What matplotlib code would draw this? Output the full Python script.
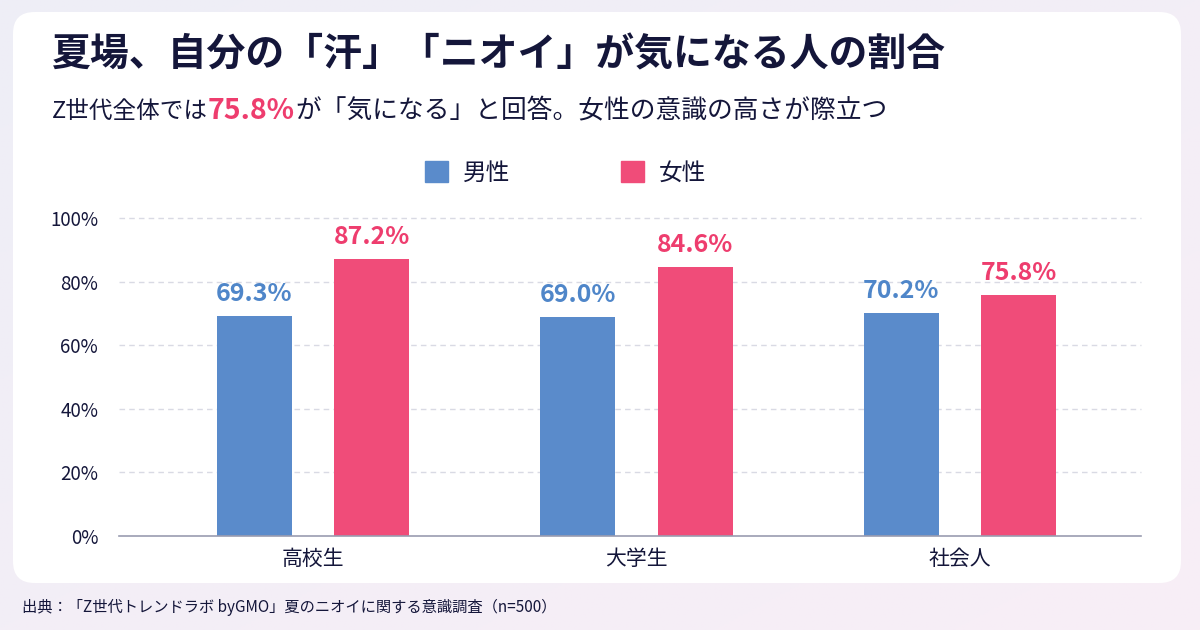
import numpy as np
import matplotlib
matplotlib.use('Agg')
import matplotlib.pyplot as plt
from matplotlib.patches import FancyBboxPatch, Patch
from matplotlib.colors import LinearSegmentedColormap

plt.rcParams['font.family'] = ['Noto Sans CJK JP', 'DejaVu Sans']

# data
categories = ['高校生', '大学生', '社会人']
male = [69.3, 69.0, 70.2]
female = [87.2, 84.6, 75.8]
series_names = ['男性', '女性']
yticks = [0, 20, 40, 60, 80, 100]

title = '夏場、自分の「汗」「ニオイ」が気になる人の割合'
# (text, highlighted, font size)
sub_parts = [('Z世代全体では', False, 17), ('75.8%', True, 20.5),
             ('が「気になる」と回答。女性の意識の高さが際立つ', False, 18.5)]
source = '出典：「Z世代トレンドラボ byGMO」夏のニオイに関する意識調査（n=500）'

blue = '#5a8bcb'
pink = '#f04c79'
blue_txt = '#4f86c9'
pink_txt = '#ee3d6e'
navy = '#14163a'

W, H = 1200, 630
fig = plt.figure(figsize=(W / 100, H / 100), dpi=100)

# background gradient
bg = fig.add_axes([0, 0, 1, 1], zorder=-10)
grad = np.linspace(0, 1, 256)
gx, gy = np.meshgrid(grad, grad)
cmap = LinearSegmentedColormap.from_list('bg', ['#eeeef7', '#f8eef6'])
bg.imshow((gx + gy) / 2, cmap=cmap, aspect='auto', extent=[0, 1, 0, 1], origin='upper')
bg.set_xlim(0, 1)
bg.set_ylim(0, 1)
bg.axis('off')

# white card
card = FancyBboxPatch((13 / W, 1 - 583 / H), (1181 - 13) / W, (583 - 12) / H,
                      boxstyle='round,pad=0,rounding_size=0.018',
                      transform=fig.transFigure, facecolor='white', edgecolor='none',
                      mutation_aspect=W / H, zorder=-5)
fig.patches.append(card)

# title
fig.text(52 / W, 1 - 55 / H, title, fontsize=28, fontweight='bold', color=navy, va='center')

# subtitle with highlighted number
fig.canvas.draw()
renderer = fig.canvas.get_renderer()
x = 52 / W
for txt, hl, fs in sub_parts:
    t = fig.text(x, 1 - 111 / H, txt, fontsize=fs, va='center',
                 color=pink_txt if hl else navy, fontweight='bold' if hl else 'normal')
    bb = t.get_window_extent(renderer)
    x += bb.width / W

# source
fig.text(22 / W, 1 - 607 / H, source, fontsize=11, color=navy, va='center')

# chart
ax = fig.add_axes([119 / W, 1 - 535.7 / H, 1022 / W, 317.4 / H])
xpos = np.arange(len(categories))
bw = 0.232
off = 0.182
b1 = ax.bar(xpos - off, male, bw, color=blue, zorder=3)
b2 = ax.bar(xpos + off, female, bw, color=pink, zorder=3)
for rects, vals, c in [(b1, male, blue_txt), (b2, female, pink_txt)]:
    for r, v in zip(rects, vals):
        ax.annotate(f'{v:.1f}%', (r.get_x() + r.get_width() / 2, v), xytext=(0, 7),
                    textcoords='offset points', ha='center', va='bottom',
                    fontsize=18, fontweight='bold', color=c)

ax.set_xlim(-0.6, 2.56)
ax.set_ylim(0, 100)
ax.set_yticks(yticks)
ax.set_yticklabels([f'{v}%' for v in yticks])
ax.set_xticks(xpos)
ax.set_xticklabels(categories)
ax.tick_params(axis='y', length=0, pad=15, labelsize=13.5, labelcolor=navy)
ax.tick_params(axis='x', length=0, pad=9, labelsize=15, labelcolor=navy)
for s in ['top', 'right', 'left']:
    ax.spines[s].set_visible(False)
ax.spines['bottom'].set_color('#9a9cb0')
ax.spines['bottom'].set_linewidth(1.2)
ax.spines['bottom'].set_zorder(4)
for v in yticks[1:]:
    ax.axhline(v, color='#d9dae4', linestyle=(0, (4, 3)), linewidth=1, zorder=1, clip_on=False)
ax.set_facecolor('none')

# legend
handles = [Patch(color=blue), Patch(color=pink)]
fig.legend(handles, series_names, loc='center', bbox_to_anchor=(566 / W, 1 - 173 / H),
           ncol=2, frameon=False, fontsize=17, handlelength=0.95, handleheight=0.95,
           columnspacing=4.7, handletextpad=0.65, labelcolor=navy)

fig.savefig('out.png', dpi=100)
